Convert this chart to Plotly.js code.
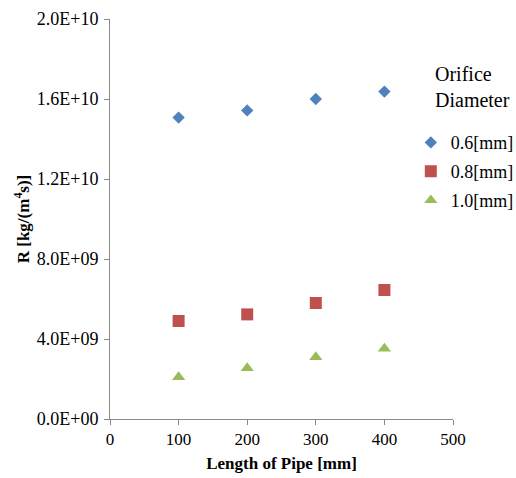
<!DOCTYPE html>
<html>
<head>
<meta charset="utf-8">
<script src="https://cdn.plot.ly/plotly-3.0.1.min.js"></script>
<style>html,body{margin:0;padding:0;background:#fff;}#chart{width:516px;height:478px;}</style>
</head>
<body>
<div id="chart"></div>
<script>
var lengths = [100, 200, 300, 400];
var seriesNames = ["0.6[mm]", "0.8[mm]", "1.0[mm]"];
var r06 = [1.507e10, 1.543e10, 1.600e10, 1.637e10];
var r08 = [4.90e9, 5.23e9, 5.80e9, 6.45e9];
var r10 = [2.10e9, 2.55e9, 3.10e9, 3.52e9];
var yTickVals = [0, 4e9, 8e9, 1.2e10, 1.6e10, 2e10];
var yTickText = ["0.0E+00", "4.0E+09", "8.0E+09", "1.2E+10", "1.6E+10", "2.0E+10"];
var xTickVals = [0, 100, 200, 300, 400, 500];

var serif = "Liberation Serif";
var axisColor = "#898989";

var traces = [
  {x: lengths, y: r06, name: seriesNames[0], legendgroup: "a", mode: "markers", type: "scatter",
   marker: {symbol: "diamond", size: 9.5, color: "#4F81BD"}},
  {x: lengths, y: r08, name: seriesNames[1], legendgroup: "b", mode: "markers", type: "scatter",
   marker: {symbol: "square", size: 12, color: "#C0504D"}},
  {x: lengths, y: r10, name: seriesNames[2], legendgroup: "c", mode: "markers", type: "scatter",
   marker: {symbol: "triangle-up", size: 11.5, color: "#9BBB59"}}
];

var layout = {
  width: 516, height: 478,
  margin: {l: 110, r: 63, t: 19, b: 59, autoexpand: false},
  paper_bgcolor: "#fff", plot_bgcolor: "#fff",
  font: {family: serif, size: 17, color: "#000"},
  showlegend: true,
  legend: {x: 0.877, xanchor: "left", y: 0.737, yanchor: "top", tracegroupgap: 2.5,
           font: {family: serif, size: 18, color: "#000"}, bgcolor: "rgba(0,0,0,0)"},
  xaxis: {range: [0, 500], tickvals: xTickVals, showgrid: false, zeroline: false,
          showline: true, linecolor: axisColor, linewidth: 1,
          ticks: "outside", ticklen: 5, tickcolor: axisColor,
          tickfont: {family: serif, size: 17}, automargin: false,
          title: {text: "<b>Length of Pipe [mm]</b>", font: {family: serif, size: 17}, standoff: 8}},
  yaxis: {range: [0, 2e10], tickvals: yTickVals, ticktext: yTickText, showgrid: false, zeroline: false,
          showline: true, linecolor: axisColor, linewidth: 1,
          ticks: "outside", ticklen: 5, tickcolor: axisColor, ticklabelstandoff: 2,
          tickfont: {family: serif, size: 18}, automargin: false,
          title: {text: "<b>R [kg/(m<sup>4</sup>s)]</b>", font: {family: serif, size: 17}, standoff: 2}},
  annotations: [
    {text: "Orifice<br>Diameter", xref: "paper", yref: "paper", x: 0.942, y: 0.895,
     xanchor: "left", yanchor: "top", align: "left", showarrow: false,
     font: {family: serif, size: 20, color: "#000"}}
  ]
};

Plotly.newPlot("chart", traces, layout, {staticPlot: true, displayModeBar: false});
</script>
</body>
</html>
